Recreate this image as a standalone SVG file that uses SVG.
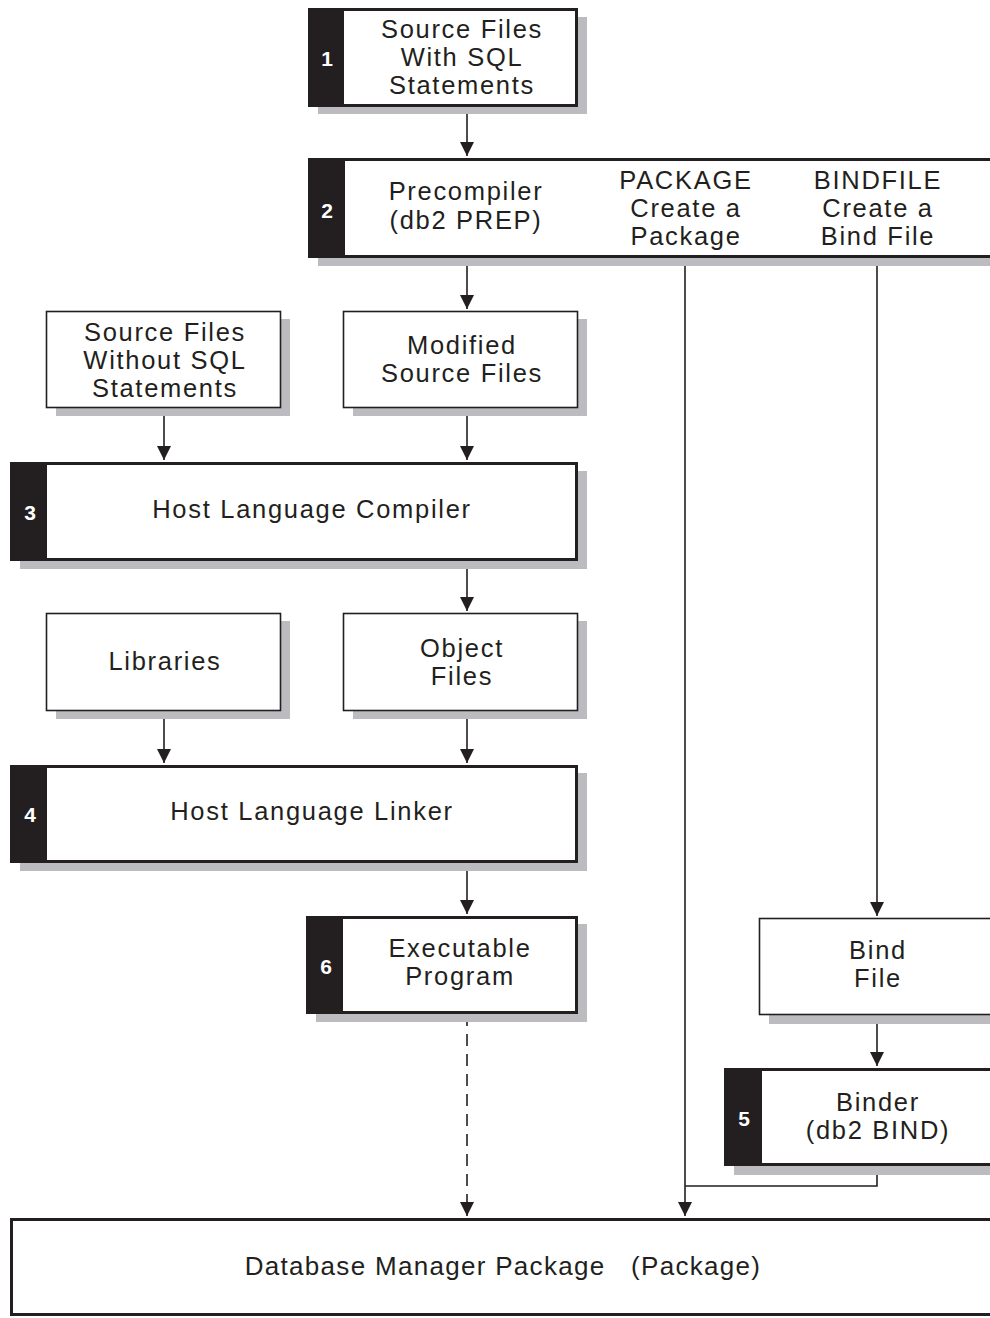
<svg xmlns="http://www.w3.org/2000/svg" width="990" height="1318" viewBox="0 0 990 1318">
<defs>
<style>
.sh{fill:#bcbcc0}
.bx{fill:#fff;stroke:#231f20;stroke-width:3}
.bt{fill:#fff;stroke:#231f20;stroke-width:1.6}
.tab{fill:#231f20}
.t{font-family:"Liberation Sans",Arial,sans-serif;font-size:25.5px;fill:#231f20;text-anchor:middle;letter-spacing:1.7px}
.n{font-family:"Liberation Sans",Arial,sans-serif;font-size:21px;font-weight:bold;fill:#fff;text-anchor:middle}
.ln{fill:none;stroke:#231f20;stroke-width:1.6}
</style>
<marker id="ah" viewBox="0 0 10 10" refX="10" refY="5" markerWidth="14" markerHeight="14" markerUnits="userSpaceOnUse" orient="auto">
<path d="M0,0 L10,5 L0,10 z" fill="#231f20"/>
</marker>
</defs>
<rect width="990" height="1318" fill="#fff"/>

<g id="connectors">
<line class="ln" x1="467" y1="106" x2="467" y2="156" marker-end="url(#ah)"/>
<line class="ln" x1="467" y1="258" x2="467" y2="309" marker-end="url(#ah)"/>
<line class="ln" x1="164" y1="408" x2="164" y2="460" marker-end="url(#ah)"/>
<line class="ln" x1="467" y1="408" x2="467" y2="460" marker-end="url(#ah)"/>
<line class="ln" x1="467" y1="561" x2="467" y2="611" marker-end="url(#ah)"/>
<line class="ln" x1="164" y1="711" x2="164" y2="763" marker-end="url(#ah)"/>
<line class="ln" x1="467" y1="711" x2="467" y2="763" marker-end="url(#ah)"/>
<line class="ln" x1="467" y1="863" x2="467" y2="914" marker-end="url(#ah)"/>
<line class="ln" x1="467" y1="1014" x2="467" y2="1216" stroke-dasharray="12,8" marker-end="url(#ah)"/>
<line class="ln" x1="685" y1="258" x2="685" y2="1216" marker-end="url(#ah)"/>
<line class="ln" x1="877" y1="258" x2="877" y2="916" marker-end="url(#ah)"/>
<line class="ln" x1="877" y1="1015" x2="877" y2="1066" marker-end="url(#ah)"/>
<polyline class="ln" points="877,1166 877,1186 685,1186"/>
</g>

<g id="node1">
<rect class="sh" x="318" y="17" width="269" height="97"/>
<rect class="bx" x="309.5" y="9.5" width="267" height="96"/>
<rect class="tab" x="308" y="8" width="36" height="99"/>
<text class="n" x="327" y="66">1</text>
<text class="t" x="462" y="38">Source Files</text>
<text class="t" x="462" y="66">With SQL</text>
<text class="t" x="462" y="94">Statements</text>
</g>

<g id="node2">
<rect class="sh" x="318" y="166" width="680" height="100"/>
<rect class="bx" x="309.5" y="159.5" width="690" height="97"/>
<rect class="tab" x="308" y="158" width="37" height="100"/>
<text class="n" x="327" y="218">2</text>
<text class="t" x="466" y="200">Precompiler</text>
<text class="t" x="466" y="229">(db2 PREP)</text>
<text class="t" x="686" y="189">PACKAGE</text>
<text class="t" x="686" y="217">Create a</text>
<text class="t" x="686" y="245">Package</text>
<text class="t" x="878" y="189">BINDFILE</text>
<text class="t" x="878" y="217">Create a</text>
<text class="t" x="878" y="245">Bind File</text>
</g>

<g id="node-src-nosql">
<rect class="sh" x="56" y="319" width="234" height="97"/>
<rect class="bt" x="46.5" y="311.5" width="234" height="96"/>
<text class="t" x="165" y="341">Source Files</text>
<text class="t" x="165" y="369">Without SQL</text>
<text class="t" x="165" y="397">Statements</text>
</g>

<g id="node-modified">
<rect class="sh" x="353" y="319" width="234" height="97"/>
<rect class="bt" x="343.5" y="311.5" width="234" height="96"/>
<text class="t" x="462" y="354">Modified</text>
<text class="t" x="462" y="382">Source Files</text>
</g>

<g id="node3">
<rect class="sh" x="20" y="471" width="567" height="98"/>
<rect class="bx" x="11.5" y="463.5" width="565" height="96"/>
<rect class="tab" x="10" y="462" width="37" height="99"/>
<text class="n" x="30" y="520">3</text>
<text class="t" x="312" y="518">Host Language Compiler</text>
</g>

<g id="node-libraries">
<rect class="sh" x="56" y="621" width="234" height="98"/>
<rect class="bt" x="46.5" y="613.5" width="234" height="97"/>
<text class="t" x="165" y="670">Libraries</text>
</g>

<g id="node-objects">
<rect class="sh" x="353" y="621" width="234" height="98"/>
<rect class="bt" x="343.5" y="613.5" width="234" height="97"/>
<text class="t" x="462" y="657">Object</text>
<text class="t" x="462" y="685">Files</text>
</g>

<g id="node4">
<rect class="sh" x="20" y="773" width="567" height="98"/>
<rect class="bx" x="11.5" y="766.5" width="565" height="95"/>
<rect class="tab" x="10" y="765" width="37" height="98"/>
<text class="n" x="30" y="822">4</text>
<text class="t" x="312" y="820">Host Language Linker</text>
</g>

<g id="node6">
<rect class="sh" x="316" y="924" width="271" height="98"/>
<rect class="bx" x="307.5" y="917.5" width="269" height="95"/>
<rect class="tab" x="306" y="916" width="37" height="98"/>
<text class="n" x="326" y="974">6</text>
<text class="t" x="460" y="957">Executable</text>
<text class="t" x="460" y="985">Program</text>
</g>

<g id="node-bindfile">
<rect class="sh" x="769" y="1015" width="230" height="9"/>
<rect class="bt" x="759.5" y="918.5" width="240" height="96"/>
<text class="t" x="878" y="959">Bind</text>
<text class="t" x="878" y="987">File</text>
</g>

<g id="node5">
<rect class="sh" x="734" y="1166" width="265" height="9"/>
<rect class="bx" x="725.5" y="1069.5" width="274" height="95"/>
<rect class="tab" x="724" y="1068" width="38" height="98"/>
<text class="n" x="744" y="1126">5</text>
<text class="t" x="878" y="1111">Binder</text>
<text class="t" x="878" y="1139">(db2 BIND)</text>
</g>

<g id="node-package">
<rect class="bx" x="11.5" y="1219.5" width="990" height="95"/>
<text class="t" x="503" y="1275" xml:space="preserve" style="font-size:26px;letter-spacing:1.3px">Database Manager Package   (Package)</text>
</g>
</svg>
